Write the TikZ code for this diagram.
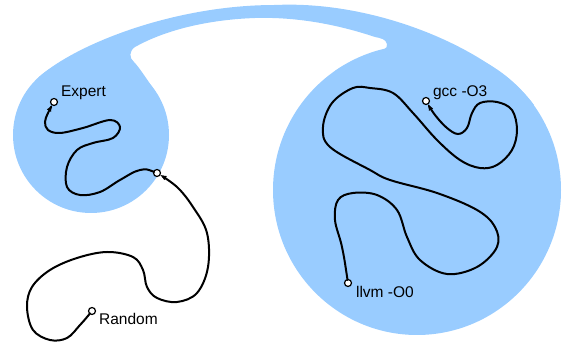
\documentclass[tikz,border=0pt]{standalone}
\usepackage{fontspec}
\setmainfont{Liberation Sans}
\usepackage{tikz}
\usetikzlibrary{positioning,arrows.meta}
\definecolor{skyblue}{HTML}{99CCFF}

\begin{document}
\begin{tikzpicture}
	[x=1pt, y=-1pt,
	blob/.style ={fill=skyblue},
	dot/.style ={circle, draw=black, line width=1.2pt, fill=white, inner sep=0pt, minimum size=7pt},
	lbl/.style ={inner sep=1pt, font=\fontsize{15.5}{18}\selectfont},
	trail/.style ={draw, line width=2pt, line cap=round, shorten <=3pt},
	arrowtrail/.style ={trail, -{Latex[length=7pt,width=5pt]}, shorten >=3pt}]
	\useasboundingbox (0,0) rectangle (563,344);
	\fill[blob] (91,135) circle[radius=78];
	\fill[blob] (417,190) circle[x radius=144, y radius=145];
	\fill[blob] (37,79) .. controls (70,47) and (170,5) .. (275,5)
		.. controls (380,0) and (495,52) .. (534,105) -- (417,190) -- (335,71)
		.. controls (349,61) and (368,55) .. (375,53)
		.. controls (382,51) and (388,49) .. (387,44)
		.. controls (386,39) and (380,38) .. (375,37)
		.. controls (330,22) and (290,17) .. (255,18)
		.. controls (200,20) and (160,33) .. (135,47)
		.. controls (129,51) and (129,58) .. (134,62)
		.. controls (138,66) and (144,75) .. (155,91) -- (91,135) -- cycle;
	\draw (92, 311) node[dot] (random) {};
	\draw (157, 173) node[dot] (mid) {};
	\draw (54, 102) node[dot] (expert) {};
	\draw (348, 283) node[dot] (llvm) {};
	\draw (426, 101) node[dot] (gcc) {};
	\node[lbl, below right=-2pt and 3pt of random] (randomlbl) {Random};
	\node[lbl, above right=-2pt and 3pt of expert] (expertlbl) {Expert};
	\node[lbl, above right=-3pt and 3pt of gcc] (gcclbl) {gcc -O3};
	\node[lbl, below right=-1pt and 4pt of llvm] (llvmlbl) {llvm -O0};
	\draw[arrowtrail] plot[smooth, tension=0.6] coordinates {(random)
		(80,325) (67,338) (50,340) (33,330) (27,307) (32,287) (50,270)
		(77,258) (107,252) (133,257) (143,270) (147,287) (157,298)
		(177,302) (197,293) (208,267) (207,233) (193,207) (177,187) (mid)};
	\draw[arrowtrail] plot[smooth, tension=0.6] coordinates {(mid)
		(140,170) (120,180) (100,192) (80,195) (67,187) (67,167) (77,150)
		(93,143) (113,138) (120,127) (110,120) (83,128) (60,133) (48,130)
		(45,122) (48,113) (expert)};
	\draw[arrowtrail] plot[smooth, tension=0.6] coordinates {(llvm)
		(342,247) (335,220) (338,200) (353,193) (377,195) (397,210)
		(407,237) (420,260) (447,274) (477,267) (497,247) (495,227)
		(477,210) (437,193) (390,180) (370,170) (330,147) (323,127)
		(332,103) (353,88) (370,88) (393,93) (413,113) (437,140) (460,160)
		(480,168) (497,165) (512,150) (517,130) (512,110) (497,102)
		(480,103) (472,113) (467,128) (458,134) (447,128) (435,115) (gcc)};
\end{tikzpicture}
\end{document}
